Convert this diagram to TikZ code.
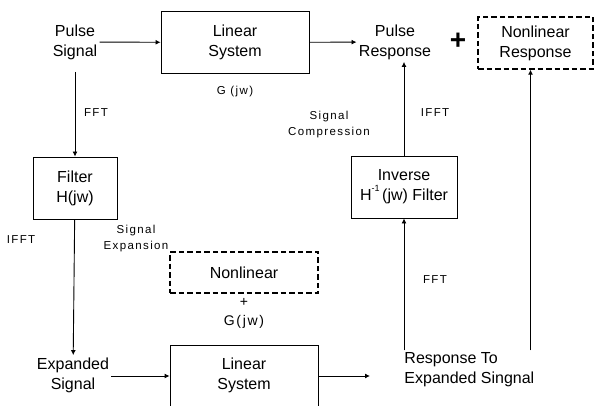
\documentclass[tikz,border=0pt]{standalone}
\usepackage{fontspec}
\setmainfont{Liberation Sans}
\newfontfamily\spacedfont[LetterSpace=12]{Liberation Sans}
\usetikzlibrary{arrows.meta, positioning}
\tikzset{
  every picture/.style={font=\fontsize{16}{20}\selectfont, line width=0.9pt},
  block/.style={draw, align=center, minimum width=#1, minimum height=62pt, inner sep=0pt},
  block/.default=148pt,
  dashblock/.style={block=#1, dashed, dash pattern=on 5.5pt off 3pt, line width=1.4pt},
  label/.style={align=center, inner sep=2pt},
  small/.style={font=\spacedfont\fontsize{11.5}{16}\selectfont, align=center, inner sep=0pt},
  arrow/.style={-{Latex[length=5pt, width=5pt]}},
}
\begin{document}
\begin{tikzpicture}[x=1pt, y=-1pt]
  \useasboundingbox (0,0) rectangle (594,406);
  \clip (0,0) rectangle (594,406);
  % top row
  \node[label] (pulse) at (75,42) {Pulse\\Signal};
  \node[block] (linsys) at (235,42.5) {Linear\\System};
  \node[small] (gjw) at (235,92) {G (jw)};
  \node[label] (presp) at (395,42) {Pulse\\Response};
  \node[font=\fontsize{28}{28}\selectfont\bfseries] (plus) at (458,41) {+};
  \node[dashblock=115pt, minimum height=52pt] (nlresp) at (535.5,43) {Nonlinear\\Response};
  % left column
  \node[block=84pt] (filter) at (75,188) {Filter\\H(jw)};
  \node[small] (fft1) at (96,113) {FFT};
  \node[small] (ifft1) at (21,240) {IFFT};
  \node[small] (sigexp) at (136,239) {Signal\\Expansion};
  \node[dashblock=148pt, minimum height=41pt] (nonlin) at (244,272.5) {Nonlinear};
  \node[small, font=\spacedfont\fontsize{14}{19}\selectfont] (gjw2) at (244,313) {+\\G(jw)};
  % bottom row
  \node[label] (expsig) at (73,375) {Expanded\\Signal};
  \node[block, minimum height=80pt] (linsys2) at (244,385) {};
  \node[label] at (244,375) {Linear\\System};
  \node[label, align=left, anchor=west] (resexp) at (402,370) {Response To\\Expanded Singnal};
  \coordinate (tip) at (370,376);
  % right column
  \node[block=106pt] (inverse) at (404,187) {Inverse\\H\raisebox{1.1ex}{\fontsize{9}{9}\selectfont -1}\,(jw) Filter};
  \node[small] (ifft2) at (435,113) {IFFT};
  \node[small] (sigcomp) at (329,125) {Signal\\Compression};
  \node[small] (fft2) at (435,280) {FFT};
  % connectors
  \draw[arrow] (pulse) -- (linsys);
  \draw[arrow] (linsys) -- (presp);
  \draw[arrow, shorten <=10pt] (pulse) -- (filter);
  \draw[arrow] (filter) -- (expsig);
  \draw[arrow] (expsig.east |- tip) -- (linsys2.west |- tip);
  \draw[arrow] (linsys2.east |- tip) -- (tip);
  \draw[arrow] (inverse.south |- resexp.north) -- (inverse.south);
  \draw[arrow] (inverse.north) -- (inverse.north |- presp.south);
  \draw[arrow] ([xshift=-5pt]nlresp.south |- resexp.north) -- ([xshift=-5pt]nlresp.south);
\end{tikzpicture}
\end{document}
